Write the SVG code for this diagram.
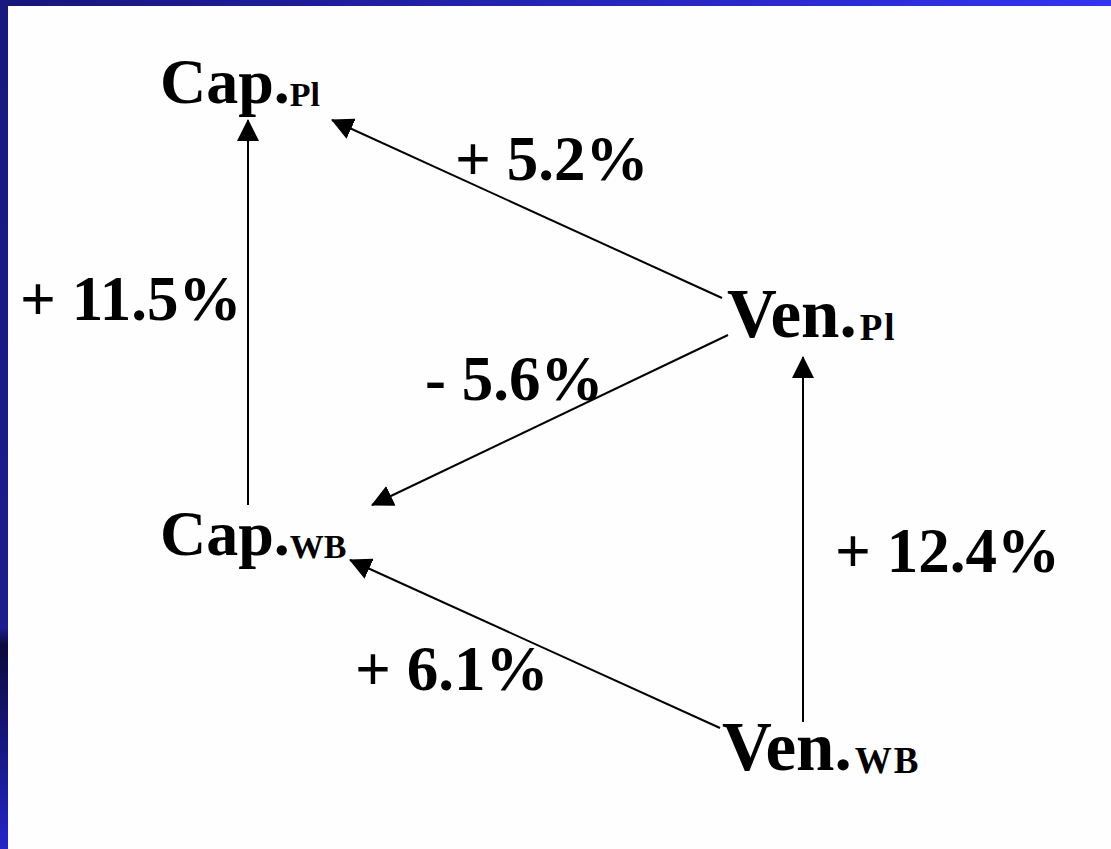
<svg xmlns="http://www.w3.org/2000/svg" width="1111" height="849" viewBox="0 0 1111 849">
<defs>
<linearGradient id="topg" x1="0" y1="0" x2="1" y2="0">
<stop offset="0" stop-color="#16167a"/>
<stop offset="1" stop-color="#3333f2"/>
</linearGradient>
<linearGradient id="leftg" x1="0" y1="0" x2="0" y2="1">
<stop offset="0" stop-color="#18187e"/>
<stop offset="0.74" stop-color="#1c1c8c"/>
<stop offset="0.76" stop-color="#0b0b3c"/>
<stop offset="1" stop-color="#2424c8"/>
</linearGradient>
<marker id="ah" viewBox="0 0 22 22" refX="21" refY="11" markerWidth="22" markerHeight="22" markerUnits="userSpaceOnUse" orient="auto">
<path d="M0,0 L22,11 L0,22 Z" fill="#000"/>
</marker>
<style>
.t{font-family:"Liberation Serif","Times New Roman",serif;font-weight:bold;fill:#000}
.n{font-size:64px}
.v{font-size:69px}
.s{font-size:34px}
.sv{font-size:37px;letter-spacing:2px}
.l{font-size:63px}
.c{stroke:#000;stroke-width:2;fill:none;marker-end:url(#ah)}
</style>
</defs>
<rect width="1111" height="849" fill="#fefefe"/>
<rect x="0" y="0" width="1111" height="6" fill="url(#topg)"/>
<rect x="0" y="0" width="8" height="849" fill="url(#leftg)"/>
<g id="connectors">
<line class="c" x1="248" y1="505" x2="248" y2="120"/>
<line class="c" x1="722" y1="298" x2="332" y2="120"/>
<line class="c" x1="728" y1="335" x2="372" y2="505"/>
<line class="c" x1="803" y1="722" x2="803" y2="357"/>
<line class="c" x1="720" y1="728" x2="350" y2="560"/>
</g>
<g id="capPl"><text class="t n" x="160" y="103">Cap.<tspan class="s" dy="3">Pl</tspan></text></g>
<g id="venPl"><text class="t v" x="727" y="337">Ven.<tspan class="sv" dx="3" dy="3">Pl</tspan></text></g>
<g id="capWB"><text class="t n" x="160" y="555">Cap.<tspan class="s" dy="3">WB</tspan></text></g>
<g id="venWB"><text class="t v" x="722" y="770">Ven.<tspan class="sv" dx="3" dy="3">WB</tspan></text></g>
<g id="labels">
<text class="t l" x="20" y="320">+ 11.5%</text>
<text class="t l" x="455" y="180">+ 5.2%</text>
<text class="t l" x="425" y="400">- 5.6%</text>
<text class="t l" x="835" y="572">+ 12.4%</text>
<text class="t l" x="355" y="690">+ 6.1%</text>
</g>
</svg>
